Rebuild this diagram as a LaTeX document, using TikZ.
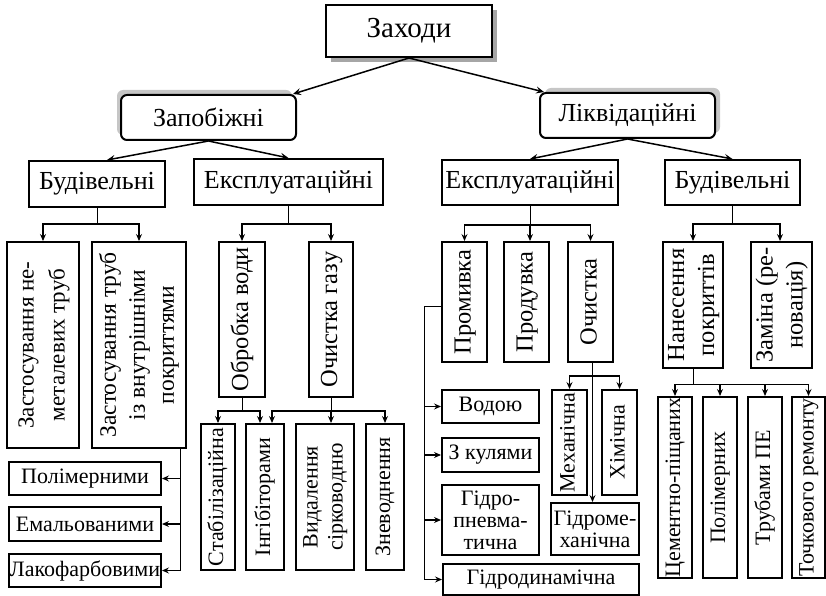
\documentclass[tikz,border=0pt]{standalone}
\usepackage{fontspec}
\setmainfont{Liberation Serif}
\usepackage{graphicx}
\usetikzlibrary{arrows.meta,calc,shadows}

% vertical (rotated) label, several lines allowed
\newcommand{\vlabel}[1]{\rotatebox{90}{\begin{tabular}{@{}c@{}}#1\end{tabular}}}

\tikzset{
    box/.style={draw, line width=2pt, fill=white, inner sep=0pt, align=center,
        font=\fontsize{22}{25}\selectfont},
    bigbox/.style={box, font=\fontsize{24.5}{30}\selectfont},
    topbox/.style={box, font=\fontsize{29}{33}\selectfont,
        drop shadow={shadow xshift=5pt, shadow yshift=-5pt, fill=gray!70, opacity=1}},
    groupbox/.style={box, rounded corners=6pt, font=\fontsize{26}{30}\selectfont},
    kindbox/.style={box, font=\fontsize{26}{30}\selectfont},
    arr/.style={-{Stealth[length=8pt, width=7pt, inset=3pt]}, line width=1.5pt},
    stem/.style={line width=1pt},
    tip/.style={-{Stealth[length=7pt, width=6pt, inset=2.5pt]}, line width=1.4pt}
}

\begin{document}
\begin{tikzpicture}[x=1pt, y=-1pt]
    \useasboundingbox (0,0) rectangle (826,596);

    % Top level
    \node[topbox, minimum width=166pt, minimum height=52pt] (zakhody) at (409,31) {Заходи};

    \node[groupbox, minimum width=175pt, minimum height=45pt,
        drop shadow={shadow xshift=-4pt, shadow yshift=5pt, fill=gray!45, opacity=1}]
        (zapob) at (208.5,117.5) {Запобіжні};
    \node[groupbox, minimum width=175pt, minimum height=45pt,
        drop shadow={shadow xshift=5pt, shadow yshift=5pt, fill=gray!45, opacity=1}]
        (likv) at (627.5,115.5) {Ліквідаційні};

    \draw[arr] (zakhody.south) -- ($(zapob.north east)+(-4,0)$);
    \draw[arr] (zakhody.south) -- ($(likv.north west)+(5,0)$);

    % Third level
    \node[kindbox, minimum width=136pt, minimum height=46pt] (bud1) at (97,184) {Будівельні};
    \node[kindbox, minimum width=189pt, minimum height=46pt] (eksp1) at (288.5,182) {Експлуатаційні};
    \node[kindbox, minimum width=176pt, minimum height=45pt] (eksp2) at (530,182.5) {Експлуатаційні};
    \node[kindbox, minimum width=135pt, minimum height=45pt] (bud2) at (732.5,182.5) {Будівельні};

    \draw[arr] (zapob.south) -- ($(bud1.north)+(10,0)$);
    \draw[arr] (zapob.south) -- (eksp1.north);
    \draw[arr] (likv.south) -- (eksp2.north);
    \draw[arr] (likv.south) -- (bud2.north);

    % Preventive: construction
    \node[box, font=\fontsize{23}{31}\selectfont, minimum width=72pt, minimum height=206pt] (nemet) at (43,345)
        {\vlabel{Застосування не-\\металевих труб}};
    \node[box, font=\fontsize{23.5}{29}\selectfont, minimum width=94pt, minimum height=206pt] (vnutr) at (139,345)
        {\vlabel{Застосування труб\\із внутрішніми\\покриттями}};
    \draw[stem] (bud1.south) -- ++(0,16) coordinate (b1);
    \draw[tip] (b1) -| (nemet.north);
    \draw[tip] (b1) -| (vnutr.north);

    \node[box, minimum width=152pt, minimum height=33pt] (polim) at (85,478.5) {Полімерними};
    \node[box, minimum width=152pt, minimum height=34pt] (emal) at (85,524) {Емальованими};
    \node[box, minimum width=152pt, minimum height=33pt] (lako) at (85,570.5) {Лакофарбовими};
    \coordinate (v) at ($(vnutr.south east)+(-7,0)$);
    \draw[stem] (v) -- (v |- lako.east);
    \foreach \n in {polim, emal, lako}
        \draw[tip] (v |- \n.east) -- (\n.east);

    % Preventive: operational
    \node[bigbox, minimum width=46pt, minimum height=155pt] (obrob) at (242,319.5) {\vlabel{Обробка води}};
    \node[bigbox, minimum width=44pt, minimum height=155pt] (ochgaz) at (331,319.5) {\vlabel{Очистка газу}};
    \draw[stem] (eksp1.south) -- ++(0,18) coordinate (e1);
    \draw[tip] (e1) -| (obrob.north);
    \draw[tip] (e1) -| (ochgaz.north);

    \node[box, minimum width=34pt, minimum height=146pt] (stab) at (218,497) {\vlabel{Стабілізаційна}};
    \node[box, minimum width=38pt, minimum height=146pt] (ingib) at (265,497) {\vlabel{Інгібіторами}};
    \node[box, minimum width=58pt, minimum height=146pt] (vydal) at (325,497) {\vlabel{Видалення\\сірководню}};
    \node[box, minimum width=38pt, minimum height=146pt] (znev) at (385,497) {\vlabel{Зневоднення}};

    \draw[stem] (obrob.south) -- ++(0,13) coordinate (o1);
    \draw[tip] (o1) -| (stab.north);
    \draw[tip] (o1) -| ($(ingib.north)+(-5,0)$);
    \draw[stem] (ochgaz.south) -- ++(0,13) coordinate (g1);
    \draw[tip] (g1) -| ($(ingib.north)+(7,0)$);
    \draw[tip] (g1) -| (znev.north);
    \draw[tip] (g1) -- (g1 |- vydal.north);

    % Liquidation: operational
    \node[bigbox, minimum width=45pt, minimum height=120pt] (promyv) at (464.5,302) {\vlabel{Промивка}};
    \node[bigbox, minimum width=45pt, minimum height=120pt] (produv) at (526.5,302) {\vlabel{Продувка}};
    \node[bigbox, minimum width=45pt, minimum height=120pt] (ochyst) at (590.5,302) {\vlabel{Очистка}};
    \draw[stem] (eksp2.south) -- ++(0,19) coordinate (e2);
    \draw[tip] (e2) -| (promyv.north);
    \draw[tip] (e2) -| (ochyst.north);
    \draw[tip] (e2) -- (e2 |- produv.north);

    \node[box, minimum width=97pt, minimum height=33pt] (vodoyu) at (490.5,406.5) {Водою};
    \node[box, minimum width=97pt, minimum height=34pt] (kulyamy) at (490.5,455) {З кулями};
    \node[box, minimum width=97pt, minimum height=70pt] (gidropn) at (490.5,520)
        {Гідро-\\[-3pt]пневма-\\[-3pt]тична};
    \node[box, minimum width=196pt, minimum height=31pt] (gidrodyn) at (541,579.5) {Гідродинамічна};
    \draw[stem] ($(promyv.west)+(0,4)$) -- ++(-17,0) coordinate (p1);
    \draw[stem] (p1) -- (p1 |- gidrodyn.west);
    \foreach \n in {vodoyu, kulyamy, gidropn, gidrodyn}
        \draw[tip] (p1 |- \n.west) -- (\n.west);

    \node[box, minimum width=35pt, minimum height=105pt] (mekh) at (569.5,442.5) {\vlabel{Механічна}};
    \node[box, minimum width=35pt, minimum height=105pt] (khim) at (619.5,442.5) {\vlabel{Хімічна}};
    \node[box, minimum width=88pt, minimum height=52pt] (gidromekh) at (595,529)
        {Гідроме-\\[-3pt]ханічна};
    \coordinate (c0) at ($(ochyst.south)+(2,0)$);
    \coordinate (c1) at ($(ochyst.south)+(2,13)$);
    \draw[tip] (c0) -- (c0 |- gidromekh.north);
    \draw[tip] (c1) -| (mekh.north);
    \draw[tip] (c1) -| (khim.north);

    % Liquidation: construction
    \node[bigbox, minimum width=60pt, minimum height=126pt] (nanes) at (693,305) {\vlabel{Нанесення\\покриттів}};
    \node[bigbox, minimum width=61pt, minimum height=126pt] (zamina) at (781.5,305) {\vlabel{Заміна (ре-\\новація)}};
    \draw[stem] (bud2.south) -- ++(0,18) coordinate (b2);
    \draw[tip] (b2) -| (nanes.north);
    \draw[tip] (b2) -| ($(zamina.north)+(-1.5,0)$);

    \node[box, minimum width=34pt, minimum height=181pt] (cem) at (675,487.5) {\vlabel{Цементно-піщаних}};
    \node[box, minimum width=34pt, minimum height=181pt] (polim2) at (720,487.5) {\vlabel{Полімерних}};
    \node[box, minimum width=34pt, minimum height=181pt] (truby) at (765,487.5) {\vlabel{Трубами ПЕ}};
    \node[box, minimum width=33pt, minimum height=181pt] (tochk) at (808.5,487.5) {\vlabel{Точкового ремонту}};
    \draw[stem] (nanes.south) -- ++(0,15) coordinate (n1);
    \draw[stem] (n1 -| cem.north) -- (n1 -| tochk.north);
    \foreach \n in {cem, polim2, truby, tochk}
        \draw[tip] (n1 -| \n.north) -- (\n.north);
\end{tikzpicture}
\end{document}
